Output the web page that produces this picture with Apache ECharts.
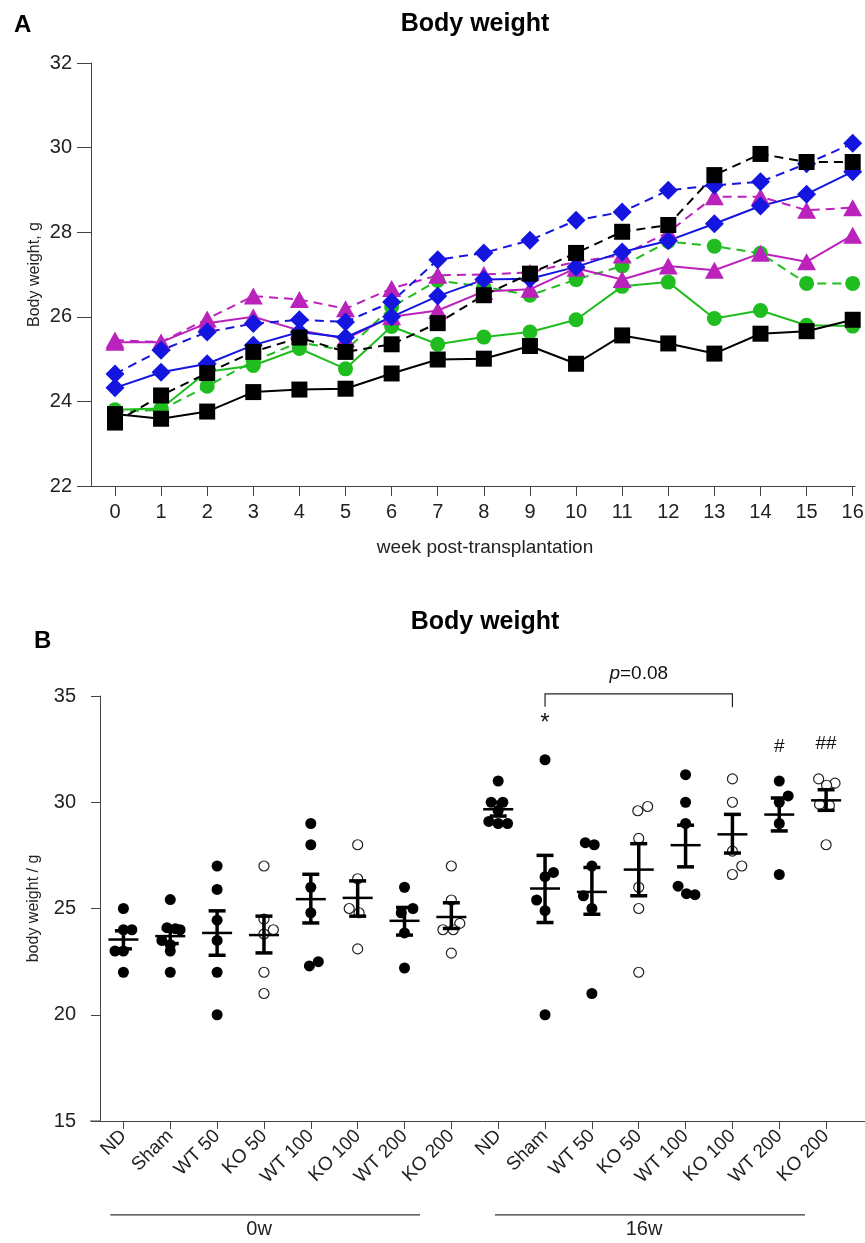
<!DOCTYPE html>
<html>
<head>
<meta charset="utf-8">
<title>Body weight</title>
<script src="https://cdn.jsdelivr.net/npm/echarts@6/dist/echarts.min.js"></script>
<style>
html, body { margin: 0; padding: 0; background: #fff; }
#chart { width: 865px; height: 1243px; }
</style>
</head>
<body>
<div id="chart"></div>
<script>
// ---- panel A: body weight (g) per week ----
const weeks = [0, 1, 2, 3, 4, 5, 6, 7, 8, 9, 10, 11, 12, 13, 14, 15, 16]
const blackSolid = [23.7, 23.59, 23.76, 24.22, 24.28, 24.3, 24.66, 24.99, 25.01, 25.31, 24.89, 25.56, 25.37, 25.13, 25.6, 25.66, 25.93]
const blackDashed = [23.5, 24.14, 24.67, 25.17, 25.51, 25.17, 25.35, 25.85, 26.51, 27.02, 27.51, 28.01, 28.17, 29.35, 29.85, 29.66, 29.66]
const greenSolid = [23.8, 23.83, 24.7, 24.85, 25.25, 24.77, 25.77, 25.35, 25.52, 25.64, 25.93, 26.72, 26.82, 25.96, 26.15, 25.8, 25.78]
const greenDashed = [23.75, 23.8, 24.36, 24.95, 25.4, 25.2, 26.23, 26.86, 26.71, 26.51, 26.88, 27.2, 27.78, 27.67, 27.5, 26.79, 26.79]
const magentaSolid = [25.4, 25.4, 25.85, 26.0, 25.68, 25.48, 26.0, 26.15, 26.6, 26.65, 27.15, 26.88, 27.2, 27.1, 27.5, 27.3, 27.93]
const magentaDashed = [25.45, 25.4, 25.95, 26.49, 26.41, 26.19, 26.67, 26.98, 27.0, 27.05, 27.3, 27.46, 28.0, 28.84, 28.84, 28.52, 28.58]
const blueSolid = [24.32, 24.69, 24.89, 25.33, 25.64, 25.51, 26.0, 26.49, 26.88, 26.9, 27.18, 27.53, 27.8, 28.2, 28.62, 28.9, 29.43]
const blueDashed = [24.65, 25.21, 25.64, 25.84, 25.93, 25.88, 26.35, 27.35, 27.51, 27.81, 28.28, 28.48, 28.99, 29.11, 29.19, 29.62, 30.1]

// ---- panel B: individual weights, 0w and 16w ----
const groupLabels = ['ND', 'Sham', 'WT 50', 'KO 50', 'WT 100', 'KO 100', 'WT 200', 'KO 200',
  'ND', 'Sham', 'WT 50', 'KO 50', 'WT 100', 'KO 100', 'WT 200', 'KO 200']
const groupWeights = [
  [25.0, 24.0, 24.0, 23.0, 23.0, 22.0],
  [25.42, 24.1, 24.05, 24.0, 23.5, 23.3, 23.0, 22.0],
  [27.0, 25.9, 24.45, 23.5, 22.0, 20.0],
  [27.0, 24.5, 24.0, 23.8, 22.0, 21.0],
  [29.0, 28.0, 26.0, 24.8, 22.5, 22.3],
  [28.0, 26.4, 25.0, 24.8, 23.1],
  [26.0, 25.0, 24.8, 23.85, 22.2],
  [27.0, 25.4, 24.3, 24.0, 24.0, 22.9],
  [31.0, 30.0, 30.0, 29.6, 29.1, 29.0, 29.0],
  [32.0, 26.7, 26.5, 25.4, 24.9, 20.0],
  [28.1, 28.0, 27.0, 25.6, 25.0, 21.0],
  [29.8, 29.6, 28.3, 26.0, 25.0, 22.0],
  [31.3, 30.0, 29.0, 26.05, 25.7, 25.65],
  [31.1, 30.0, 27.7, 27.0, 26.6],
  [31.0, 30.3, 30.0, 29.0, 26.6],
  [31.1, 30.9, 30.8, 29.9, 29.85, 28.0]
]
// horizontal scatter of the dots, in group widths
const groupJitter = [
  [0, 0, 0.18, -0.18, 0, 0],
  [0, -0.07, 0.11, 0.21, -0.18, 0, 0, 0],
  [0, 0, 0, 0, 0, 0],
  [0, 0, 0.2, 0, 0, 0],
  [0, 0, 0, 0, 0.16, -0.03],
  [0, 0, -0.18, 0.03, 0],
  [0, 0.18, -0.07, 0, 0],
  [0, 0, 0.18, -0.18, 0.04, 0],
  [0, -0.15, 0.1, 0, -0.2, 0, 0.2],
  [0, 0.18, 0, -0.18, 0, 0],
  [-0.14, 0.05, 0, -0.18, 0, 0],
  [0.19, -0.02, 0, 0, 0, 0],
  [0, 0, 0, -0.16, 0.02, 0.2],
  [0, 0, 0, 0.2, 0],
  [0, 0.19, 0, 0, 0],
  [-0.16, 0.19, 0.01, -0.14, 0.07, 0]
]
const groupMean = [23.54, 23.7, 23.85, 23.75, 25.44, 25.5, 24.42, 24.6, 29.67, 25.94, 25.78, 26.83, 27.98, 28.49, 29.42, 30.09]
const groupSemLow = [23.1, 23.35, 22.8, 22.91, 24.32, 24.64, 23.75, 24.06, 29.35, 24.34, 24.73, 25.6, 26.96, 27.61, 28.65, 29.62]
const groupSemHigh = [23.95, 24.05, 24.89, 24.64, 26.61, 26.3, 25.05, 25.27, 30.0, 27.5, 26.93, 28.05, 28.92, 29.43, 30.2, 30.59]

// significance marks above the 16w groups
const sigGroups = [9, 14, 15]
const sigLabels = ['*', '#', '##']
const sigValues = [33.85, 32.6, 32.77]
const bracketGroups = [9, 13]
const bracketLabel = 'p=0.08'

const FONT = 'Liberation Sans, Arial, sans-serif'
const chart = echarts.init(document.getElementById('chart'))

function lineSeries(values, color, symbol, size, dashed) {
  return {
    type: 'line',
    xAxisIndex: 0,
    yAxisIndex: 0,
    data: weeks.map((w, i) => [w, values[i]]),
    symbol: symbol,
    symbolSize: size,
    itemStyle: { color: color, opacity: 1 },
    lineStyle: { color: color, width: 2, type: dashed ? [9, 6] : 'solid' },
    animation: false
  }
}

const filledDots = []
const openDots = []
groupWeights.forEach((vals, g) => {
  vals.forEach((v, k) => {
    const pt = [g + groupJitter[g][k], v]
    if (groupLabels[g].indexOf('KO') === 0) openDots.push(pt)
    else filledDots.push(pt)
  })
})

function renderBar(params, api) {
  const x = api.value(0)
  const m = api.coord([x, api.value(1)])
  const lo = api.coord([x, api.value(2)])
  const hi = api.coord([x, api.value(3)])
  const st = { stroke: '#000', lineWidth: 3.5 }
  return {
    type: 'group',
    children: [
      { type: 'line', shape: { x1: lo[0], y1: lo[1], x2: hi[0], y2: hi[1] }, style: st },
      { type: 'line', shape: { x1: lo[0] - 8.5, y1: lo[1], x2: lo[0] + 8.5, y2: lo[1] }, style: st },
      { type: 'line', shape: { x1: hi[0] - 8.5, y1: hi[1], x2: hi[0] + 8.5, y2: hi[1] }, style: st },
      { type: 'line', shape: { x1: m[0] - 15, y1: m[1], x2: m[0] + 15, y2: m[1] }, style: { stroke: '#000', lineWidth: 2.5 } }
    ]
  }
}

function renderBracket(params, api) {
  const a = api.coord([api.value(0), 35.1])
  const b = api.coord([api.value(1), 35.1])
  const aLow = api.coord([api.value(0), 34.5])
  const bLow = api.coord([api.value(1), 34.47])
  const st = { stroke: '#222', lineWidth: 1.2, fill: null }
  return {
    type: 'group',
    children: [
      { type: 'polyline', shape: { points: [[aLow[0], aLow[1]], [a[0], a[1]], [b[0], b[1]], [bLow[0], bLow[1]]] }, style: st },
      {
        type: 'text',
        x: (a[0] + b[0]) / 2,
        y: a[1] - 20,
        style: {
          text: '{i|p}' + bracketLabel.slice(1),
          rich: { i: { fontStyle: 'italic', fontSize: 19, fontFamily: FONT, fill: '#111' } },
          fontSize: 19, fontFamily: FONT, fill: '#111',
          align: 'center', verticalAlign: 'middle'
        }
      }
    ]
  }
}

function renderSig(params, api) {
  const p = api.coord([api.value(0), api.value(1)])
  const label = sigLabels[params.dataIndex]
  return {
    type: 'text',
    x: p[0],
    y: label === '*' ? p[1] + 3 : p[1],
    style: {
      text: label,
      fontSize: label === '*' ? 24 : 19,
      fontFamily: FONT,
      fill: '#111',
      align: 'center',
      verticalAlign: 'middle'
    }
  }
}

// time-point bars under the category labels
const periodLabels = ['0w', '16w']
const periodSpans = [[-0.28, 6.33], [7.93, 14.55]]

function renderPeriod(params, api) {
  const a = api.coord([api.value(0), 10.58])
  const b = api.coord([api.value(1), 10.58])
  return {
    type: 'group',
    children: [
      { type: 'line', shape: { x1: a[0], y1: a[1], x2: b[0], y2: b[1] }, style: { stroke: '#333', lineWidth: 1.2 } },
      {
        type: 'text',
        x: (a[0] + b[0]) / 2 - 6,
        y: a[1] + 15,
        style: { text: periodLabels[params.dataIndex], fontSize: 20, fontFamily: FONT, fill: '#222', align: 'center', verticalAlign: 'middle' }
      }
    ]
  }
}

const axisLineStyle = { color: '#444', width: 1 }
const labelStyle = { color: '#222', fontSize: 20, fontFamily: FONT }

chart.setOption({
  animation: false,
  textStyle: { fontFamily: FONT },
  title: [
    { text: 'A', left: 9, top: 8, textStyle: { fontSize: 24, fontWeight: 'bold', color: '#000', fontFamily: FONT } },
    { text: 'Body weight', left: 470, top: 7, textAlign: 'center', textStyle: { fontSize: 25, fontWeight: 'bold', color: '#000', fontFamily: FONT } },
    { text: 'B', left: 29, top: 624, textStyle: { fontSize: 24, fontWeight: 'bold', color: '#000', fontFamily: FONT } },
    { text: 'Body weight', left: 480, top: 605, textAlign: 'center', textStyle: { fontSize: 25, fontWeight: 'bold', color: '#000', fontFamily: FONT } }
  ],
  grid: [
    { left: 91, top: 63, right: 10, bottom: 757, outerBoundsMode: 'none' },
    { left: 100, top: 696, right: 0, bottom: 122, outerBoundsMode: 'none' }
  ],
  xAxis: [
    {
      gridIndex: 0,
      type: 'value',
      min: -0.52,
      max: 16.05,
      name: 'week post-transplantation',
      nameLocation: 'middle',
      nameGap: 52,
      nameTextStyle: { fontSize: 19, color: '#222', fontFamily: FONT, padding: [0, 0, 0, 24] },
      axisLine: { show: true, onZero: false, lineStyle: axisLineStyle },
      axisTick: { show: true, length: 10, lineStyle: axisLineStyle, customValues: weeks },
      axisLabel: { ...labelStyle, margin: 16, customValues: weeks },
      splitLine: { show: false }
    },
    {
      gridIndex: 1,
      type: 'value',
      min: -0.5,
      max: 15.83,
      axisLine: { show: true, onZero: false, lineStyle: axisLineStyle },
      axisTick: { show: true, length: 8, lineStyle: axisLineStyle, customValues: groupLabels.map((_, i) => i) },
      axisLabel: {
        color: '#222', fontSize: 19, fontFamily: FONT, rotate: 45, margin: 12,
        customValues: groupLabels.map((_, i) => i),
        formatter: v => groupLabels[Math.round(v)] || ''
      },
      splitLine: { show: false }
    }
  ],
  yAxis: [
    {
      gridIndex: 0,
      type: 'value',
      min: 22,
      max: 32,
      interval: 2,
      name: 'Body weight, g',
      nameLocation: 'middle',
      nameGap: 48,
      nameMoveOverlap: false,
      nameTextStyle: { fontSize: 16, color: '#222', fontFamily: FONT },
      axisLine: { show: true, onZero: false, lineStyle: axisLineStyle },
      axisTick: { show: true, length: 14, lineStyle: axisLineStyle },
      axisLabel: { ...labelStyle, margin: 19 },
      splitLine: { show: false }
    },
    {
      gridIndex: 1,
      type: 'value',
      min: 15,
      max: 35,
      interval: 5,
      name: 'body weight / g',
      nameLocation: 'middle',
      nameGap: 58,
      nameTextStyle: { fontSize: 16, color: '#222', fontFamily: FONT },
      axisLine: { show: true, onZero: false, lineStyle: axisLineStyle },
      axisTick: { show: true, length: 9, lineStyle: axisLineStyle },
      axisLabel: { ...labelStyle, margin: 24 },
      splitLine: { show: false }
    }
  ],
  graphic: [
    { type: 'line', shape: { x1: 90, y1: 1121, x2: 100, y2: 1121 }, style: { stroke: '#444', lineWidth: 1 } }
  ],
  series: [
    lineSeries(greenSolid, '#1fbd1f', 'circle', 15, false),
    lineSeries(greenDashed, '#1fbd1f', 'circle', 15, true),
    lineSeries(magentaSolid, '#bb22bb', 'triangle', [19, 17], false),
    lineSeries(magentaDashed, '#bb22bb', 'triangle', [19, 17], true),
    lineSeries(blueSolid, '#1515e0', 'diamond', 19, false),
    lineSeries(blueDashed, '#1515e0', 'diamond', 19, true),
    lineSeries(blackSolid, '#000000', 'rect', 16, false),
    lineSeries(blackDashed, '#000000', 'rect', 16, true),
    {
      type: 'scatter',
      xAxisIndex: 1,
      yAxisIndex: 1,
      data: filledDots,
      symbol: 'circle',
      symbolSize: 11,
      itemStyle: { color: '#000', opacity: 1 }
    },
    {
      type: 'scatter',
      xAxisIndex: 1,
      yAxisIndex: 1,
      data: openDots,
      symbol: 'circle',
      symbolSize: 10,
      itemStyle: { color: '#fff', borderColor: '#222', borderWidth: 1.2, opacity: 1 }
    },
    {
      type: 'custom',
      xAxisIndex: 1,
      yAxisIndex: 1,
      renderItem: renderBar,
      encode: { x: 0, y: [1, 2, 3] },
      data: groupMean.map((m, i) => [i, m, groupSemLow[i], groupSemHigh[i]]),
      z: 5
    },
    {
      type: 'custom',
      xAxisIndex: 1,
      yAxisIndex: 1,
      clip: false,
      renderItem: renderBracket,
      encode: { x: [0, 1] },
      data: [bracketGroups]
    },
    {
      type: 'custom',
      xAxisIndex: 1,
      yAxisIndex: 1,
      clip: false,
      renderItem: renderSig,
      encode: { x: 0, y: 1 },
      data: sigGroups.map((g, i) => [g, sigValues[i]])
    },
    {
      type: 'custom',
      xAxisIndex: 1,
      yAxisIndex: 1,
      clip: false,
      renderItem: renderPeriod,
      encode: { x: [0, 1] },
      data: periodSpans
    }
  ]
})
</script>
</body>
</html>
